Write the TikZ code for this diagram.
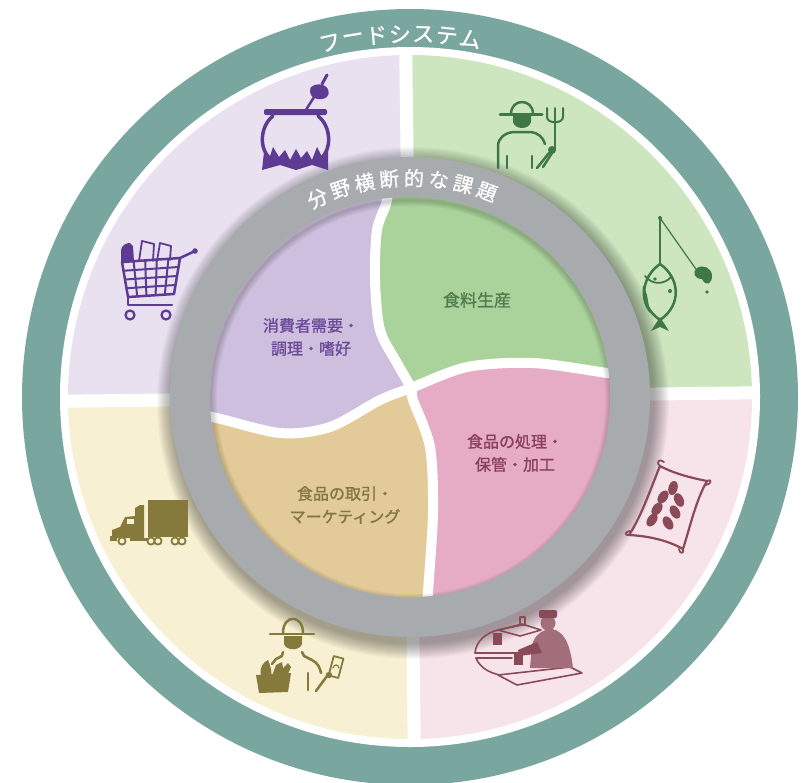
\documentclass[tikz,border=0pt]{standalone}
\usepackage{fontspec}
\newfontfamily\jp[FakeBold=1.2]{Noto Sans CJK JP}
\newfontfamily\jptitle[FakeBold=0.8]{Noto Sans CJK JP}
\usetikzlibrary{calc}

\definecolor{ringteal}{RGB}{121,166,159}
\definecolor{qpurple}{RGB}{233,224,240}
\definecolor{qgreen}{RGB}{205,230,192}
\definecolor{qyellow}{RGB}{248,240,210}
\definecolor{qpink}{RGB}{247,227,234}
\definecolor{ringgray}{RGB}{167,171,173}
\definecolor{ipurple}{RGB}{205,191,221}
\definecolor{igreen}{RGB}{170,211,156}
\definecolor{itan}{RGB}{226,203,152}
\definecolor{ipink}{RGB}{230,172,198}
\definecolor{tpurple}{RGB}{108,76,154}
\definecolor{tgreen}{RGB}{80,125,80}
\definecolor{ttan}{RGB}{130,117,70}
\definecolor{tpink}{RGB}{138,64,92}
\definecolor{cpurple}{RGB}{94,59,147}
\definecolor{cgreen}{RGB}{62,120,71}
\definecolor{colive}{RGB}{133,122,60}
\definecolor{cmaroon}{RGB}{139,74,88}

\tikzset{
  ringchar/.style={text=white, inner sep=0pt, font=\jptitle\fontsize{#1}{#1}\selectfont},
  sectorlabel/.style={align=center, inner sep=0pt, font=\jp\fontsize{16}{23}\selectfont},
  divider/.style={white, line width=#1},
  iconline/.style={line width=#1, line cap=round, line join=round},
}

\begin{document}
\begin{tikzpicture}[x=1pt,y=-1pt]
\useasboundingbox (0,0) rectangle (802,782);
\fill[white] (0,0) rectangle (802,782);
\coordinate (c) at (410,397);

% outer food-system ring
\fill[ringteal] (c) circle (388);
\fill[white] (c) circle (350);

% four outer sectors
\begin{scope}
  \clip (c) circle (342);
  \begin{scope}[rotate around={0.7:(c)}]
    \fill[qpurple] (0,0) rectangle (410,397);
    \fill[qgreen] (410,0) rectangle (802,397);
    \fill[qyellow] (0,397) rectangle (410,782);
    \fill[qpink] (410,397) rectangle (802,782);
    \draw[divider=13] (410,0) -- (410,800);
    \draw[divider=13] (0,397) -- (820,397);
  \end{scope}
\end{scope}

% soft shadow below the grey ring
\foreach \k in {0,...,15}
  \fill[black, opacity=0.025] ($(c)+(3,6)$) circle ({240+16-\k});

% grey ring of cross-cutting issues
\fill[ringgray] (c) circle (240);

% inner disc with curved sectors
\begin{scope}
  \clip (c) circle (200);
  \fill[ipink] (c) circle (210);
  \fill[ipurple] (150,150) -- (386,150)
    -- plot[smooth] coordinates {(386,170) (387,200) (377,230) (375,280) (380,330) (397,363) (411,388)}
    -- plot[smooth] coordinates {(411,388) (380,400) (330,427) (280,433) (212,417) (180,415)}
    -- (150,415) -- cycle;
  \fill[igreen] (670,378)
    -- plot[smooth] coordinates {(640,378) (607,373) (533,363) (467,367) (411,388)}
    -- plot[smooth] coordinates {(411,388) (397,363) (380,330) (375,280) (377,230) (387,200) (386,170)}
    -- (386,150) -- (670,150) -- cycle;
  \fill[itan] (150,415)
    -- plot[smooth] coordinates {(180,415) (212,417) (280,433) (330,427) (380,400) (411,388)}
    -- plot[smooth] coordinates {(411,388) (413,400) (430,447) (433,513) (428,593) (427,630)}
    -- (427,650) -- (150,650) -- cycle;
  \draw[divider=10] plot[smooth] coordinates {(386,170) (387,200) (377,230) (375,280) (380,330) (397,363) (411,388) (413,400) (430,447) (433,513) (428,593) (427,630)};
  \draw[divider=10] plot[smooth] coordinates {(180,415) (212,417) (280,433) (330,427) (380,400) (411,388) (467,367) (533,363) (607,373) (640,378)};
  % faint inner shading along the rim
  \foreach \k in {0,...,5}
    \draw[black, opacity=0.03, line width={2*(6-\k)}] ($(c)+(1,3)$) circle (200);
\end{scope}

% curved titles
\foreach \ch [count=\i, evaluate=\i as \a using {91.6+(4-\i)*3.71}] in {フ,ー,ド,シ,ス,テ,ム}
  \node[ringchar=22, name=fs\i, rotate=\a-90] at ({410+363*cos(\a)},{397-363*sin(\a)}) {\ch};
\foreach \ch [count=\i, evaluate=\i as \a using {92.2+(4.5-\i)*6.5}] in {分,野,横,断,的,な,課,題}
  \node[ringchar=20, name=ci\i, rotate=\a-90] at ({410+219*cos(\a)},{397-219*sin(\a)}) {\ch};

% sector labels
\node[sectorlabel, text=tpurple] (consume) at (311,337) {消費者需要・\\調理・嗜好};
\node[sectorlabel, text=tgreen, font=\jp\fontsize{17}{23}\selectfont] (produce) at (477,300) {食料生産};
\node[sectorlabel, text=tpink] (process) at (515,453) {食品の処理・\\保管・加工};
\node[sectorlabel, text=ttan] (market) at (345,505) {食品の取引・\\マーケティング};

% ---- icons: cooking pot
\begin{scope}[cpurple]
  \draw[iconline=3.5] (273,116) .. controls (260,126) and (258,150) .. (272,160);
  \draw[iconline=3.5] (318,116) .. controls (331,126) and (333,150) .. (319,160);
  \fill[rounded corners=2] (264,109) rectangle (327,115);
  \fill (262,170) -- (264,152) -- (269,159) -- (273,147) -- (279,157) -- (285,150) -- (290,160)
    -- (296,149) -- (301,158) -- (307,151) -- (312,160) -- (317,147) -- (322,157) -- (328,150)
    -- (328,170) -- (312,165) -- (296,170) -- (280,165) -- cycle;
  \draw[iconline=2.5] (304,113) -- (316,94);
  \fill (310,92) .. controls (308,86) and (318,82) .. (325,86) .. controls (331,90) and (330,98) .. (322,99)
    .. controls (315,100) and (311,97) .. (310,92) -- cycle;
  \draw[iconline=3] (322,84) -- (327,75);
\end{scope}

% ---- shopping cart
\begin{scope}[cpurple]
  \coordinate (ktl) at (122,262); \coordinate (ktr) at (180,258);
  \coordinate (kbr) at (174,294); \coordinate (kbl) at (128,297);
  \fill (121,262) -- (121,250) .. controls (122,245) and (126,243) .. (130,243) -- (133,246) -- (134,262) -- cycle;
  \draw[iconline=1.8] (139,261) -- (142,241) -- (154,244) -- (153,261);
  \draw[iconline=1.8] (157,261) -- (160,243) -- (171,246) -- (170,260);
  \draw[iconline=2.5] (ktl) -- (ktr) -- (kbr) -- (kbl) -- cycle;
  \foreach \t in {0.2,0.4,0.6,0.8}
    \draw[iconline=2] ($(ktl)!\t!(ktr)$) -- ($(kbl)!\t!(kbr)$);
  \foreach \t in {0.25,0.5,0.75}
    \draw[iconline=2] ($(ktl)!\t!(kbl)$) -- ($(ktr)!\t!(kbr)$);
  \draw[iconline=2.5] (ktr) -- (193,252);
  \fill (195,251) circle (2.8);
  \draw[iconline=2.5] (kbl) -- (128,305) -- (172,305);
  \draw[iconline=2.2] (130,315) circle (4.5);
  \draw[iconline=2.2] (166,315) circle (4.5);
\end{scope}

% ---- farmer with pitchfork
\begin{scope}[cgreen]
  \draw[iconline=2.5] (511,114) .. controls (511,98) and (533,98) .. (533,114);
  \draw[iconline=3] (500,114) -- (542,114);
  \fill (513,116) -- (531,116) -- (531,122) .. controls (529,130) and (515,130) .. (513,122) -- cycle;
  \draw[iconline=2.5] (498,168) -- (498,146) .. controls (498,138) and (505,133) .. (513,132)
    -- (531,132) .. controls (538,133) and (543,137) .. (545,144);
  \draw[iconline=2.5] (507,156) -- (507,168);
  \draw[iconline=2.5] (532,156) -- (532,168);
  \draw[iconline=2.5] (537,168) -- (549,153);
  \draw[iconline=2] (555,150) -- (555,108);
  \draw[iconline=2] (547,108) -- (547,117) .. controls (547,124) and (563,124) .. (563,117) -- (563,108);
  \draw[iconline=2.5] (552,153) -- (543,167);
  \fill (552,150) circle (4);
\end{scope}

% ---- fish on a line
\begin{scope}[cgreen]
  \fill (660,218) circle (2);
  \draw[iconline=1.6] (660,218) -- (660,263);
  \draw[iconline=1.2] (660,218) -- (698,272);
  \fill (702,279) .. controls (694,279) and (692,272) .. (697,268) .. controls (703,264) and (712,268) .. (712,276)
    .. controls (712,284) and (706,287) .. (702,279) -- cycle;
  \fill (707,292) circle (1.8);
  \draw[iconline=2.5] (660,264) .. controls (640,278) and (638,305) .. (660,320)
    .. controls (682,305) and (680,278) .. (660,264);
  \fill (660,317) -- (651,331) -- (660,327) -- (669,331) -- cycle;
  \fill (655,279) circle (1.8);
  \draw[iconline=1.8] (645,276) .. controls (652,285) and (664,285) .. (671,277);
  \fill (643,285) .. controls (641,298) and (645,308) .. (650,313) -- (647,295) -- cycle;
  \fill (670,291) circle (2);
\end{scope}

% ---- grain sack
\begin{scope}[cmaroon]
  \draw[iconline=2.2] (660,466) .. controls (675,474) and (692,478) .. (707,481)
    .. controls (696,500) and (690,527) .. (683,549)
    .. controls (667,540) and (648,536) .. (629,535)
    .. controls (642,515) and (650,490) .. (660,466) -- cycle;
  \draw[iconline=1.8] (660,466) .. controls (655,462) and (660,458) .. (664,462);
  \draw[iconline=1.8] (707,481) .. controls (712,478) and (712,484) .. (706,485);
  \draw[iconline=1.8] (683,549) .. controls (685,554) and (679,554) .. (679,549);
  \draw[iconline=1.8] (629,535) .. controls (624,536) and (625,531) .. (630,531);
  \foreach \x/\y/\r in {673/488/-15, 663/497/-35, 679/500/25, 657/509/-35, 675/512/30, 652/520/-35, 668/523/30}
    \fill[rotate around={\r:(\x,\y)}] (\x,\y) ellipse (4.6 and 7.2);
\end{scope}

% ---- kitchen worker at a counter
\begin{scope}[cmaroon]
  \draw[iconline=1.6] (475,653) .. controls (476,641) and (486,633) .. (498,630) -- (522,625);
  \draw[iconline=1.6] (498,630) -- (522,624) -- (541,630) -- (520,636) -- cycle;
  \draw[iconline=1.6] (475,653) -- (516,653);
  \draw[iconline=1.6] (476,658) -- (512,658);
  \draw[iconline=1.6] (476,658) .. controls (480,668) and (490,673) .. (500,675);
  \draw[iconline=1.6] (498,675) -- (570,667) -- (582,673) -- (517,685) -- cycle;
  \fill[cmaroon!80] (530,668) -- (532,645) .. controls (535,633) and (545,629) .. (552,629)
    .. controls (563,631) and (570,642) .. (573,668) -- cycle;
  \fill[cmaroon!80] (548,623) circle (7.5);
  \fill[rounded corners=2] (539,610) rectangle (557,618);
  \fill (537,642) -- (518,650) -- (519,656) -- (542,653) -- cycle;
  \fill (493,633) rectangle (502,645);
  \fill (514,652) rectangle (523,665);
  \draw[iconline=1.4] (520,617) rectangle (525,625);
\end{scope}

% ---- delivery truck
\begin{scope}[colive]
  \fill (148,500) rectangle (188,537);
  \fill (112,538) -- (112,530) -- (120,527) -- (125,517) -- (135,516) -- (135,508) -- (140,505)
    -- (144,505) -- (144,538) -- cycle;
  \fill[qyellow] (127,519) rectangle (134,524);
  \fill (110,536) rectangle (117,541);
  \fill (130,538) rectangle (148,541);
  \foreach \x in {122,151,158,175,182}
    \draw[iconline=1.8, fill=qyellow] (\x,541) circle (3.6);
\end{scope}

% ---- vendor with basket and banknote
\begin{scope}[colive]
  \draw[iconline=2.5] (283,633) .. controls (283,614) and (303,614) .. (303,633);
  \draw[iconline=2.5] (270,634) -- (314,634);
  \fill (284,636) -- (302,636) -- (302,644) .. controls (300,651) and (286,651) .. (284,644) -- cycle;
  \draw[iconline=2.5] (283,652) -- (282,656) -- (276,659) -- (272,664);
  \draw[iconline=2.5] (302,652) -- (304,656) -- (312,660) .. controls (318,663) and (320,668) .. (321,673);
  \draw[iconline=2.5] (308,673) -- (308,690);
  \draw[iconline=2.5] (316,691) -- (327,676);
  \fill (329,675) circle (3.2);
  \fill (256,675) -- (291,673) -- (288,692) -- (259,693) -- cycle;
  \fill (261,676) .. controls (259,668) and (263,662) .. (268,660) .. controls (271,667) and (272,672) .. (271,676) -- cycle;
  \fill (272,676) -- (276,665) -- (282,662) -- (283,668) -- (288,663) -- (291,667) -- (287,676) -- cycle;
  \draw[iconline=1.8, rotate around={-15:(336,667)}] (331,657) rectangle (341,677);
  \draw[iconline=1.2] (333,668) .. controls (334,664) and (338,664) .. (339,668);
\end{scope}
\end{tikzpicture}
\end{document}
